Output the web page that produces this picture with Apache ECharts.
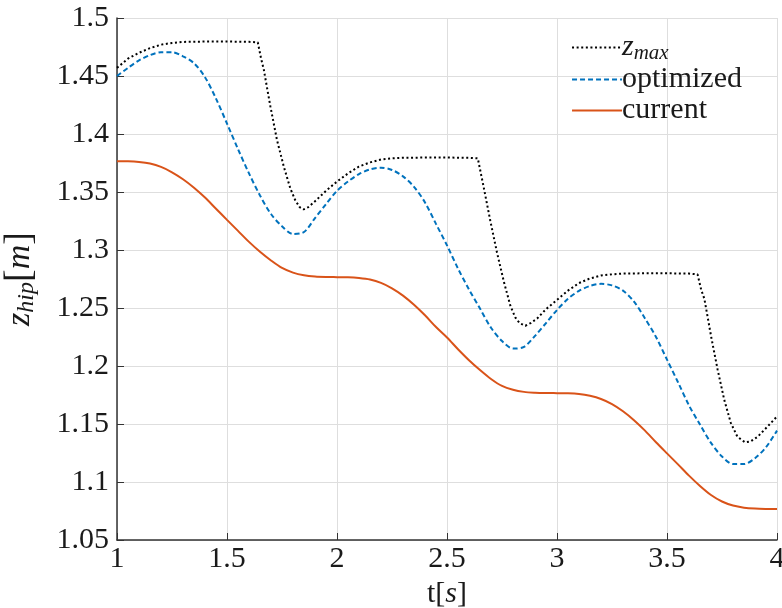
<!DOCTYPE html>
<html>
<head>
<meta charset="utf-8">
<script src="https://cdn.jsdelivr.net/npm/echarts@6/dist/echarts.min.js"></script>
<style>
  html, body { margin: 0; padding: 0; background: #fff; }
  #chart { width: 782px; height: 608px; }
</style>
</head>
<body>
<div id="chart"></div>
<script>
// Hip height limit, optimized trajectory and current trajectory over time.
const tZmax = [1.0, 1.05, 1.1, 1.15, 1.2, 1.25, 1.3, 1.4, 1.5, 1.6, 1.64, 1.655, 1.667, 1.697, 1.727, 1.758, 1.788, 1.81, 1.83, 1.848, 1.87, 1.9, 1.95, 2.0, 2.05, 2.1, 2.15, 2.2, 2.25, 2.3, 2.4, 2.5, 2.6, 2.64, 2.655, 2.667, 2.697, 2.727, 2.758, 2.788, 2.81, 2.83, 2.856, 2.88, 2.91, 2.95, 3.0, 3.05, 3.1, 3.15, 3.2, 3.25, 3.3, 3.4, 3.5, 3.6, 3.639, 3.655, 3.67, 3.7, 3.73, 3.76, 3.79, 3.82, 3.855, 3.88, 3.912, 3.958, 4.0];
const zMax = [1.457, 1.465, 1.470, 1.474, 1.477, 1.4785, 1.4794, 1.4797, 1.4797, 1.4795, 1.479, 1.465, 1.4558, 1.424, 1.395, 1.372, 1.353, 1.343, 1.337, 1.335, 1.337, 1.342, 1.351, 1.359, 1.366, 1.372, 1.3755, 1.378, 1.379, 1.3795, 1.3797, 1.3797, 1.3795, 1.379, 1.365, 1.354, 1.325, 1.298, 1.273, 1.252, 1.242, 1.237, 1.2347, 1.237, 1.241, 1.249, 1.257, 1.265, 1.2715, 1.2755, 1.278, 1.279, 1.2797, 1.2799, 1.2799, 1.2797, 1.279, 1.266, 1.2578, 1.226, 1.197, 1.171, 1.151, 1.139, 1.1342, 1.135, 1.139, 1.148, 1.1565];

const tGrid = [1.0, 1.05, 1.1, 1.15, 1.2, 1.25, 1.3, 1.35, 1.4, 1.45, 1.5, 1.55, 1.6, 1.65, 1.7, 1.75, 1.8, 1.85, 1.9, 1.95, 2.0, 2.05, 2.1, 2.15, 2.2, 2.25, 2.3, 2.35, 2.4, 2.45, 2.5, 2.55, 2.6, 2.65, 2.7, 2.75, 2.8, 2.85, 2.9, 2.95, 3.0, 3.05, 3.1, 3.15, 3.2, 3.25, 3.3, 3.35, 3.4, 3.45, 3.5, 3.55, 3.6, 3.65, 3.7, 3.75, 3.8, 3.85, 3.9, 3.95, 4.0];

const zOptimized = [1.450, 1.457, 1.4635, 1.468, 1.4705, 1.4705, 1.467, 1.461, 1.449, 1.4305, 1.409, 1.387, 1.366, 1.347, 1.331, 1.3205, 1.3138, 1.3155, 1.3275, 1.3395, 1.351, 1.359, 1.3655, 1.3695, 1.371, 1.369, 1.3635, 1.3545, 1.341, 1.3225, 1.304, 1.284, 1.266, 1.2495, 1.233, 1.2215, 1.215, 1.2165, 1.226, 1.237, 1.2483, 1.258, 1.2648, 1.269, 1.2708, 1.2695, 1.265, 1.2555, 1.241, 1.225, 1.2055, 1.186, 1.166, 1.1495, 1.1337, 1.122, 1.1155, 1.1155, 1.1205, 1.130, 1.1443];

const zCurrent = [1.3766, 1.3765, 1.3759, 1.3745, 1.3716, 1.367, 1.361, 1.3537, 1.3452, 1.3356, 1.326, 1.3165, 1.307, 1.2985, 1.291, 1.2845, 1.2805, 1.2782, 1.2771, 1.2767, 1.2766, 1.2765, 1.2759, 1.2746, 1.2717, 1.267, 1.2607, 1.2528, 1.2437, 1.2336, 1.2246, 1.2145, 1.205, 1.1965, 1.1888, 1.1828, 1.1795, 1.1777, 1.177, 1.1767, 1.1766, 1.1765, 1.1759, 1.1743, 1.1716, 1.1672, 1.161, 1.1533, 1.1443, 1.1343, 1.1247, 1.1152, 1.1055, 1.0966, 1.0888, 1.0832, 1.0797, 1.0779, 1.0771, 1.0768, 1.0767];

const xTicks = { min: 1, max: 4, step: 0.5 };
const yTicks = { min: 1.05, max: 1.5, step: 0.05 };

const pairs = (xs, ys) => xs.map((x, i) => [x, ys[i]]);

const FONT = '"Liberation Serif", "DejaVu Serif", serif';
const INK = '#1a1a1a';
const chart = echarts.init(document.getElementById('chart'), null, { renderer: 'canvas' });

chart.setOption({
  animation: false,
  backgroundColor: '#ffffff',
  grid: { left: 117, right: 5, top: 18, bottom: 68, containLabel: false, outerBoundsMode: 'none' },
  xAxis: {
    type: 'value',
    min: xTicks.min, max: xTicks.max, interval: xTicks.step,
    name: '{t|t[}{i|s}{t|]}',
    nameLocation: 'middle',
    nameGap: 37,
    nameTextStyle: {
      rich: {
        t: { fontFamily: FONT, fontSize: 30, color: INK },
        i: { fontFamily: FONT, fontSize: 30, fontStyle: 'italic', color: INK }
      }
    },
    axisLine: { show: true, onZero: false, lineStyle: { color: '#333333', width: 1.5 } },
    axisTick: { show: true, inside: true, length: 7, lineStyle: { color: '#333333' } },
    axisLabel: { fontFamily: FONT, fontSize: 30, color: INK, margin: 4 },
    splitLine: { show: true, lineStyle: { color: '#dedede', width: 1 } }
  },
  yAxis: {
    type: 'value',
    min: yTicks.min, max: yTicks.max, interval: yTicks.step,
    name: '{i|z}{sub|hip}{b|[}{i|m}{b|]}',
    nameLocation: 'middle',
    nameRotate: 90,
    nameGap: 70,
    nameTextStyle: {
      rich: {
        b: { fontFamily: FONT, fontSize: 38, color: INK, height: 40 },
        i: { fontFamily: FONT, fontSize: 34, fontStyle: 'italic', color: INK, height: 40 },
        sub: { fontFamily: FONT, fontSize: 24, fontStyle: 'italic', color: INK, height: 40, verticalAlign: 'bottom', padding: [14, 0, 0, 0] }
      }
    },
    axisLine: { show: true, onZero: false, lineStyle: { color: '#333333', width: 1.5 } },
    axisTick: { show: true, inside: true, length: 7, lineStyle: { color: '#333333' } },
    axisLabel: { fontFamily: FONT, fontSize: 30, color: INK, margin: 8 },
    splitLine: { show: true, lineStyle: { color: '#dedede', width: 1 } }
  },
  legend: {
    right: 35, top: 27,
    orient: 'vertical',
    itemWidth: 50, itemHeight: 14, itemGap: 0,
    itemStyle: { color: 'rgba(0,0,0,0)', borderWidth: 0, opacity: 0 },
    textStyle: {
      fontFamily: FONT, fontSize: 30, color: INK, lineHeight: 31, padding: [0, 0, 0, -5],
      rich: {
        i: { fontFamily: FONT, fontSize: 30, fontStyle: 'italic', color: INK },
        sub: { fontFamily: FONT, fontSize: 21, fontStyle: 'italic', color: INK, padding: [12, 0, 0, 0] }
      }
    },
    formatter: name => name === 'zmax' ? '{i|z}{sub|max}' : name,
    data: ['zmax', 'optimized', 'current']
  },
  series: [
    {
      name: 'zmax', type: 'line', showSymbol: false, symbol: 'none',
      data: pairs(tZmax, zMax),
      lineStyle: { color: '#000000', width: 2, type: [2, 2.6] },
      itemStyle: { color: '#000000' }, z: 3
    },
    {
      name: 'optimized', type: 'line', showSymbol: false, symbol: 'none', smooth: 0.3,
      data: pairs(tGrid, zOptimized),
      lineStyle: { color: '#0072BD', width: 2, type: [5, 3] },
      itemStyle: { color: '#0072BD' }, z: 2
    },
    {
      name: 'current', type: 'line', showSymbol: false, symbol: 'none', smooth: 0.3,
      data: pairs(tGrid, zCurrent),
      lineStyle: { color: '#D95319', width: 2 },
      itemStyle: { color: '#D95319' }, z: 1
    }
  ]
});
</script>
</body>
</html>
